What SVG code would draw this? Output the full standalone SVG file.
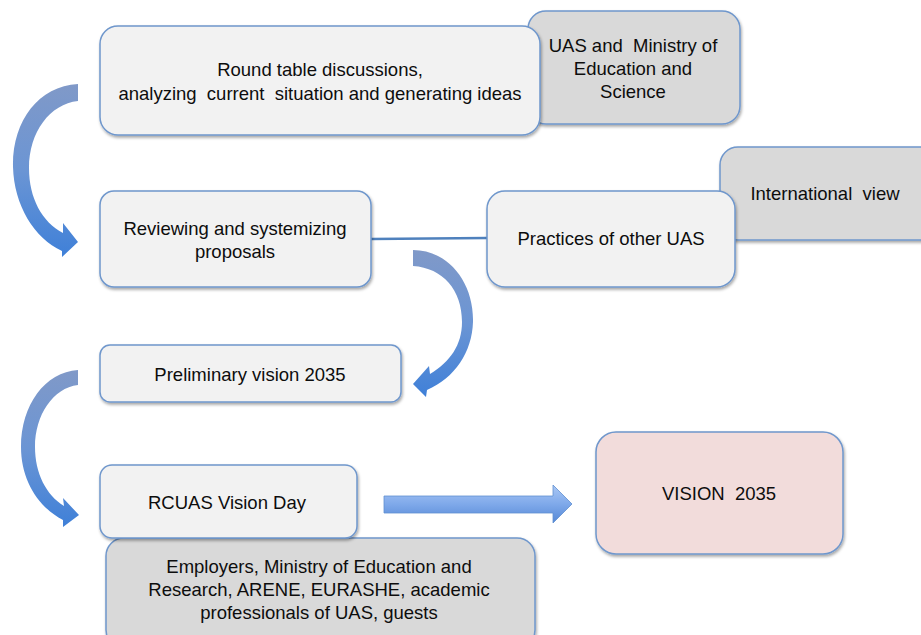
<svg xmlns="http://www.w3.org/2000/svg" width="921" height="635" viewBox="0 0 921 635">
<defs>
<style>
.box{stroke:#6f97cc;stroke-width:1.5;filter:url(#sh)}
.w{fill:#f2f2f2}
.g{fill:#d9d9d9}
.p{fill:#f2dcdb}
text{font-family:"Liberation Sans",Arial,sans-serif;font-size:18.5px;fill:#0d0d0d;text-anchor:middle;white-space:pre}
.curve{fill:url(#cg)}
</style>
<filter id="sh" x="-10%" y="-10%" width="120%" height="130%">
<feDropShadow dx="1" dy="2" stdDeviation="1.5" flood-color="#000" flood-opacity="0.35"/>
</filter>
<linearGradient id="cg" x1="0" y1="0" x2="0" y2="1">
<stop offset="0" stop-color="#8099c8"/>
<stop offset="0.5" stop-color="#6b95d4"/>
<stop offset="1" stop-color="#3f80d8"/>
</linearGradient>
<linearGradient id="bg" x1="0" y1="0" x2="0" y2="1">
<stop offset="0" stop-color="#aac8f5"/>
<stop offset="0.5" stop-color="#7fa9ea"/>
<stop offset="1" stop-color="#5588d6"/>
</linearGradient>
</defs>
<rect width="921" height="635" fill="#ffffff"/>

<g id="connectors">
<line x1="371" y1="239" x2="487" y2="238" stroke="#4f81bd" stroke-width="2.5"/>
<path class="curve" d="M78 84 C38 86 12 122 13 167 C14 205 34 238 62 251 L62 257 L78 242 L63 223 L63 233 C42 222 29 198 29 168 C29 132 50 104 78 101 Z"/>
<path class="curve" d="M413 250 C448 250 474 282 473 322 C472 352 455 378 427 390 L426 397 L413 384 L429 366 L430 374 C450 362 462 345 462 322 C462 290 443 268 413 266 Z"/>
<path class="curve" d="M78 370 C45 372 21 405 21 447 C21 480 38 507 63 520 L63 527 L79 515 L63 498 L64 506 C46 495 35 473 35 447 C35 415 53 388 78 385 Z"/>
<path d="M384 496 L553 496 L553 485 L572 504 L553 523 L553 513 L384 513 Z" fill="url(#bg)" stroke="#5f8fd0" stroke-width="0.8"/>
</g>

<g id="uas-ministry">
<rect class="box g" x="528" y="11" width="212" height="113" rx="18"/>
<text x="633" y="52" xml:space="preserve">UAS and  Ministry of</text>
<text x="633" y="75">Education and</text>
<text x="633" y="98">Science</text>
</g>

<g id="round-table">
<rect class="box w" x="100" y="26" width="440" height="109" rx="18"/>
<text x="320" y="76">Round table discussions,</text>
<text x="320" y="100" xml:space="preserve">analyzing  current  situation and generating ideas</text>
</g>

<g id="international-view">
<rect class="box g" x="720" y="147" width="230" height="93" rx="18"/>
<text x="825" y="200" xml:space="preserve">International  view</text>
</g>

<g id="reviewing">
<rect class="box w" x="100" y="191" width="271" height="96" rx="14"/>
<text x="235" y="235">Reviewing and systemizing</text>
<text x="235" y="258">proposals</text>
</g>

<g id="practices">
<rect class="box w" x="487" y="191" width="248" height="96" rx="18"/>
<text x="611" y="245">Practices of other UAS</text>
</g>

<g id="preliminary">
<rect class="box w" x="100" y="345" width="301" height="57" rx="10"/>
<text x="250" y="381">Preliminary vision 2035</text>
</g>

<g id="employers">
<rect class="box g" x="106" y="538" width="429" height="110" rx="18"/>
<text x="319" y="573">Employers, Ministry of Education and</text>
<text x="319" y="596">Research, ARENE, EURASHE, academic</text>
<text x="319" y="619">professionals of UAS, guests</text>
</g>

<g id="rcuas">
<rect class="box w" x="100" y="465" width="257" height="73" rx="12"/>
<text x="227" y="509">RCUAS Vision Day</text>
</g>

<g id="vision">
<rect class="box p" x="596" y="432" width="247" height="122" rx="20"/>
<text x="719" y="500" xml:space="preserve">VISION  2035</text>
</g>
</svg>
